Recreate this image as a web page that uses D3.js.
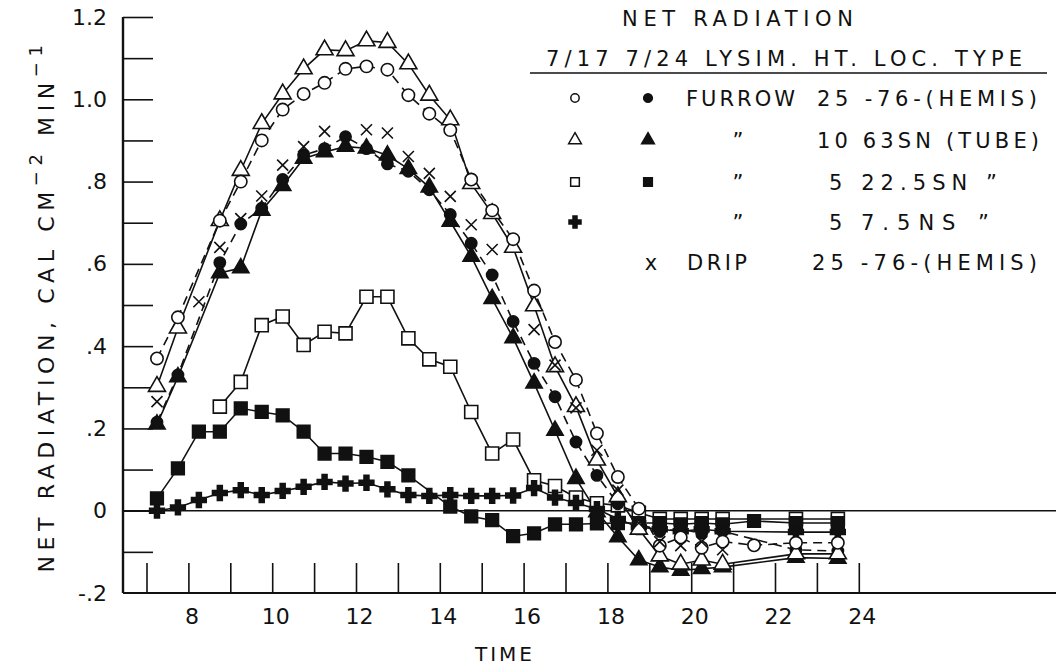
<!DOCTYPE html>
<html>
<head>
<meta charset="utf-8">
<script src="https://cdn.jsdelivr.net/npm/d3@7"></script>
<style>
  html, body { margin: 0; padding: 0; background: #fff; }
  svg { display: block; }
  text { font-family: "DejaVu Sans", sans-serif; fill: #111; }
</style>
</head>
<body>
<svg id="chart" width="1056" height="670"></svg>
<script>
// Net radiation, cal cm^-2 min^-1, versus time of day (hours)

// 7/17 furrow lysimeter, 25 ft hemispherical (open circles, dashed)
const openCircleT = [7.25,7.75,8.75,9.25,9.75,10.25,10.75,11.25,11.75,12.25,12.75,13.25,13.75,14.25,14.75,15.25,15.75,16.25,16.75,17.25,17.75,18.25,18.75,19.25,19.75,20.25,20.75,21.5,22.5,23.5];
const openCircleV = [0.37,0.47,0.705,0.80,0.90,0.975,1.013,1.04,1.074,1.08,1.072,1.01,0.965,0.925,0.805,0.73,0.66,0.535,0.41,0.318,0.188,0.082,0.005,-0.085,-0.065,-0.09,-0.075,-0.084,-0.078,-0.078];

// 7/24 furrow lysimeter, 25 ft hemispherical (filled circles, dashed)
const filledCircleT = [7.25,7.75,8.75,9.25,9.75,10.25,10.75,11.25,11.75,12.25,12.75,13.25,13.75,14.25,14.75,15.25,15.75,16.25,16.75,17.25,17.75,18.25,18.75,19.25,19.75,20.25,20.75,22.5,23.5];
const filledCircleV = [0.215,0.33,0.603,0.697,0.735,0.805,0.864,0.88,0.909,0.88,0.843,0.825,0.78,0.72,0.65,0.573,0.46,0.358,0.277,0.167,0.086,0.017,-0.031,-0.05,-0.045,-0.055,-0.05,-0.095,-0.098];

// 10 ft tube, 63 SN (triangles)
const openTriT = [7.25,7.75,8.75,9.25,9.75,10.25,10.75,11.25,11.75,12.25,12.75,13.25,13.75,14.25,14.75,15.25,15.75,16.25,16.75,17.25,17.75,18.25,18.75,19.25,19.75,20.25,20.75,22.5,23.5];
const openTriV = [0.302,0.444,0.705,0.827,0.941,1.013,1.074,1.12,1.118,1.142,1.138,1.086,1.01,0.95,0.795,0.722,0.64,0.498,0.35,0.253,0.123,0.034,-0.045,-0.11,-0.13,-0.12,-0.13,-0.105,-0.105];
const filledTriT = [7.25,7.75,8.75,9.25,9.75,10.25,10.75,11.25,11.75,12.25,12.75,13.25,13.75,14.25,14.75,15.25,15.75,16.25,16.75,17.25,17.75,18.25,18.75,19.25,19.75,20.25,20.75,22.5,23.5];
const filledTriV = [0.21,0.325,0.578,0.59,0.73,0.79,0.856,0.872,0.885,0.881,0.864,0.831,0.786,0.703,0.618,0.515,0.42,0.31,0.195,0.078,-0.003,-0.064,-0.12,-0.137,-0.145,-0.141,-0.137,-0.114,-0.116];

// 5 ft tube, 22.5 SN (squares)
const openSqT = [8.75,9.25,9.75,10.25,10.75,11.25,11.75,12.25,12.75,13.25,13.75,14.25,14.75,15.25,15.75,16.25,16.75,17.25,17.75,18.25,18.75,19.25,19.75,20.25,20.75,22.5,23.5];
const openSqV = [0.253,0.313,0.451,0.472,0.403,0.435,0.431,0.52,0.52,0.419,0.368,0.35,0.24,0.139,0.173,0.074,0.06,0.032,0.018,0.013,-0.005,-0.02,-0.02,-0.02,-0.02,-0.02,-0.02];
const filledSqT = [7.25,7.75,8.25,8.75,9.25,9.75,10.25,10.75,11.25,11.75,12.25,12.75,13.25,14.25,14.75,15.25,15.75,16.25,16.75,17.25,17.75,18.25,18.75,19.25,19.75,20.25,20.75,21.5,22.5,23.5];
const filledSqV = [0.03,0.103,0.192,0.192,0.249,0.24,0.232,0.192,0.139,0.139,0.131,0.119,0.086,0.01,-0.014,-0.023,-0.062,-0.055,-0.033,-0.033,-0.031,-0.03,-0.03,-0.03,-0.033,-0.03,-0.033,-0.025,-0.03,-0.03];

// 5 ft tube, 7.5 NS (filled crosses)
const plusT = [7.25,7.75,8.25,8.75,9.25,9.75,10.25,10.75,11.25,11.75,12.25,12.75,13.25,13.75,14.25,14.75,15.25,15.75,16.25,16.75,17.25,17.75,18.25,18.75,19.25,19.75,20.25,20.75,22.5,23.5];
const plusV = [0.0,0.008,0.026,0.043,0.05,0.038,0.048,0.058,0.07,0.066,0.068,0.052,0.038,0.036,0.038,0.036,0.036,0.037,0.055,0.032,0.019,0.004,-0.02,-0.04,-0.045,-0.05,-0.045,-0.05,-0.052,-0.052];

// 7/24 drip lysimeter, 25 ft hemispherical (x marks, no line)
const dripT = [7.25,8.25,8.75,9.25,9.75,10.25,10.75,11.25,12.25,12.75,13.25,13.75,14.25,14.75,15.25,16.25,16.75,17.25,17.75,18.25,18.75,19.25,19.75,20.25,20.75];
const dripV = [0.265,0.508,0.64,0.71,0.765,0.84,0.885,0.922,0.926,0.918,0.861,0.82,0.764,0.695,0.635,0.44,0.354,0.25,0.147,0.05,-0.03,-0.075,-0.085,-0.075,-0.095];

// Axis ticks and labels
const xTickHours = d3.range(7, 25);
const xLabelHours = [8, 10, 12, 14, 16, 18, 20, 22, 24];
const yTickValues = d3.range(-1, 13).map(i => i / 10);
const yLabelValues = [-0.2, 0, 0.2, 0.4, 0.6, 0.8, 1.0, 1.2];

const svg = d3.select("#chart");
const x = d3.scaleLinear().domain([7, 24]).range([146.5, 858.8]);
const y = d3.scaleLinear().domain([-0.2, 1.2]).range([593, 17]);
const axisLeftX = 123, rightEdge = 1056;
const ink = "#111";

// frame: left axis, bottom axis, zero line
svg.append("line").attr("x1", axisLeftX).attr("x2", axisLeftX).attr("y1", y(1.2)).attr("y2", y(-0.2))
  .attr("stroke", ink).attr("stroke-width", 2.4);
svg.append("line").attr("x1", axisLeftX).attr("x2", rightEdge).attr("y1", y(-0.2)).attr("y2", y(-0.2))
  .attr("stroke", ink).attr("stroke-width", 2);
svg.append("line").attr("x1", axisLeftX).attr("x2", rightEdge).attr("y1", y(0)).attr("y2", y(0))
  .attr("stroke", ink).attr("stroke-width", 1.6);

// y ticks point inward
const yTicks = svg.append("g").attr("transform", `translate(${axisLeftX},0)`)
  .call(d3.axisRight(y).tickValues(yTickValues).tickSize(30).tickFormat(""));
yTicks.select(".domain").remove();
yTicks.selectAll("line").attr("stroke", ink).attr("stroke-width", 1.6);

const fmtY = v => v === 0 ? "0" : (Math.abs(v) >= 1 ? v.toFixed(1) : v.toFixed(1).replace("0.", "."));
const yLabels = svg.append("g").attr("transform", `translate(${axisLeftX - 16},0)`)
  .call(d3.axisLeft(y).tickValues(yLabelValues).tickSize(0).tickPadding(0).tickFormat(fmtY));
yLabels.select(".domain").remove();
yLabels.selectAll("text").attr("font-size", 22).attr("font-family", "DejaVu Sans, sans-serif").attr("fill", ink);

// x ticks point upward from the bottom axis
const xTicks = svg.append("g").attr("transform", `translate(0,${y(-0.2)})`)
  .call(d3.axisTop(x).tickValues(xTickHours).tickSize(30).tickFormat(""));
xTicks.select(".domain").remove();
xTicks.selectAll("line").attr("stroke", ink).attr("stroke-width", 1.6);

const xLabels = svg.append("g").attr("transform", `translate(3,${y(-0.2)})`)
  .call(d3.axisBottom(x).tickValues(xLabelHours).tickSize(0).tickPadding(15).tickFormat(d3.format("d")));
xLabels.select(".domain").remove();
xLabels.selectAll("text").attr("font-size", 22).attr("font-family", "DejaVu Sans, sans-serif").attr("fill", ink);

// axis titles
svg.append("text").attr("x", 505).attr("y", 661).attr("text-anchor", "middle")
  .attr("font-size", 20).attr("letter-spacing", 3).text("TIME");

const yTitle = svg.append("text").attr("transform", "translate(54,306) rotate(-90)")
  .attr("text-anchor", "middle").attr("font-size", 22).attr("letter-spacing", 5.6);
yTitle.append("tspan").text("NET RADIATION, CAL CM");
yTitle.append("tspan").attr("dy", -12).attr("font-size", 18).text("−2");
yTitle.append("tspan").attr("dy", 12).text(" MIN");
yTitle.append("tspan").attr("dy", -12).attr("font-size", 18).text("−1");

// marker shapes
const sym = (type, size) => d3.symbol().type(type).size(size)();
const xMark = r => `M${-r},${-r}L${r},${r}M${-r},${r}L${r},${-r}`;

const series = [
  { t: openSqT, v: openSqV, shape: sym(d3.symbolSquare, 170), fill: "#fff", dash: null },
  { t: filledSqT, v: filledSqV, shape: sym(d3.symbolSquare, 160), fill: ink, dash: null },
  { t: plusT, v: plusV, shape: sym(d3.symbolCross, 120), fill: ink, dash: null },
  { t: filledTriT, v: filledTriV, shape: sym(d3.symbolTriangle, 115), fill: ink, dash: null },
  { t: filledCircleT, v: filledCircleV, shape: sym(d3.symbolCircle, 100), fill: ink, dash: "9,6" },
  { t: openTriT, v: openTriV, shape: sym(d3.symbolTriangle, 125), fill: "#fff", dash: null },
  { t: openCircleT, v: openCircleV, shape: sym(d3.symbolCircle, 120), fill: "#fff", dash: "9,6" },
  { t: dripT, v: dripV, shape: xMark(5.5), fill: "none", dash: null, noLine: true }
];

const line = d3.line().x(d => x(d[0])).y(d => y(d[1]));
const plot = svg.append("g");

series.forEach(s => {
  if (s.noLine) return;
  plot.append("path").datum(d3.zip(s.t, s.v)).attr("d", line)
    .attr("fill", "none").attr("stroke", ink).attr("stroke-width", 1.6)
    .attr("stroke-dasharray", s.dash);
});
series.forEach(s => {
  plot.append("g").selectAll("path").data(d3.zip(s.t, s.v)).join("path")
    .attr("transform", d => `translate(${x(d[0])},${y(d[1])})`)
    .attr("d", s.shape)
    .attr("fill", s.fill).attr("stroke", ink).attr("stroke-width", 1.6);
});

// legend
const legend = svg.append("g");
const lgFont = 21;
legend.append("text").attr("x", 622).attr("y", 26).attr("font-size", lgFont)
  .attr("textLength", 231).attr("lengthAdjust", "spacing").text("NET RADIATION");
legend.append("text").attr("x", 546).attr("y", 66).attr("font-size", lgFont)
  .attr("textLength", 476).attr("lengthAdjust", "spacing").text("7/17  7/24  LYSIM.  HT.  LOC.  TYPE");
legend.append("line").attr("x1", 530).attr("x2", 1047).attr("y1", 73).attr("y2", 73)
  .attr("stroke", ink).attr("stroke-width", 1.6);

const rowY = [98, 140, 182, 222, 262];
const col717 = 575, col724 = 648;
const legendSymbols = [
  [col717, 0, sym(d3.symbolCircle, 55), "#fff"],
  [col724, 0, sym(d3.symbolCircle, 60), ink],
  [col717, 1, sym(d3.symbolTriangle, 70), "#fff"],
  [col724, 1, sym(d3.symbolTriangle, 70), ink],
  [col717, 2, sym(d3.symbolSquare, 75), "#fff"],
  [col724, 2, sym(d3.symbolSquare, 75), ink],
  [col717, 3, sym(d3.symbolCross, 80), ink]
];
legendSymbols.forEach(([cx, r, d, f]) => {
  legend.append("path").attr("transform", `translate(${cx},${rowY[r]})`).attr("d", d)
    .attr("fill", f).attr("stroke", ink).attr("stroke-width", 1.5);
});

const legendTexts = [
  [686, 0, "FURROW", 109],
  [817, 0, "25 -76-(HEMIS)", 220],
  [738, 1, "\u201D", null],
  [817, 1, "10 63SN (TUBE)", 222],
  [738, 2, "\u201D", null],
  [829, 2, "5 22.5SN \u201D", 168],
  [738, 3, "\u201D", null],
  [829, 3, "5", null],
  [861, 3, "7.5NS \u201D", 128],
  [651, 4, "x", null],
  [687, 4, "DRIP", 60],
  [812, 4, "25 -76-(HEMIS)", 225]
];
legendTexts.forEach(([lx, r, str, len]) => {
  const t = legend.append("text").attr("x", lx).attr("y", rowY[r] + 8).attr("font-size", lgFont).text(str);
  if (len) t.attr("textLength", len).attr("lengthAdjust", "spacing");
  if (str === "\u201D" || str === "x") t.attr("text-anchor", "middle");
});
</script>
</body>
</html>
